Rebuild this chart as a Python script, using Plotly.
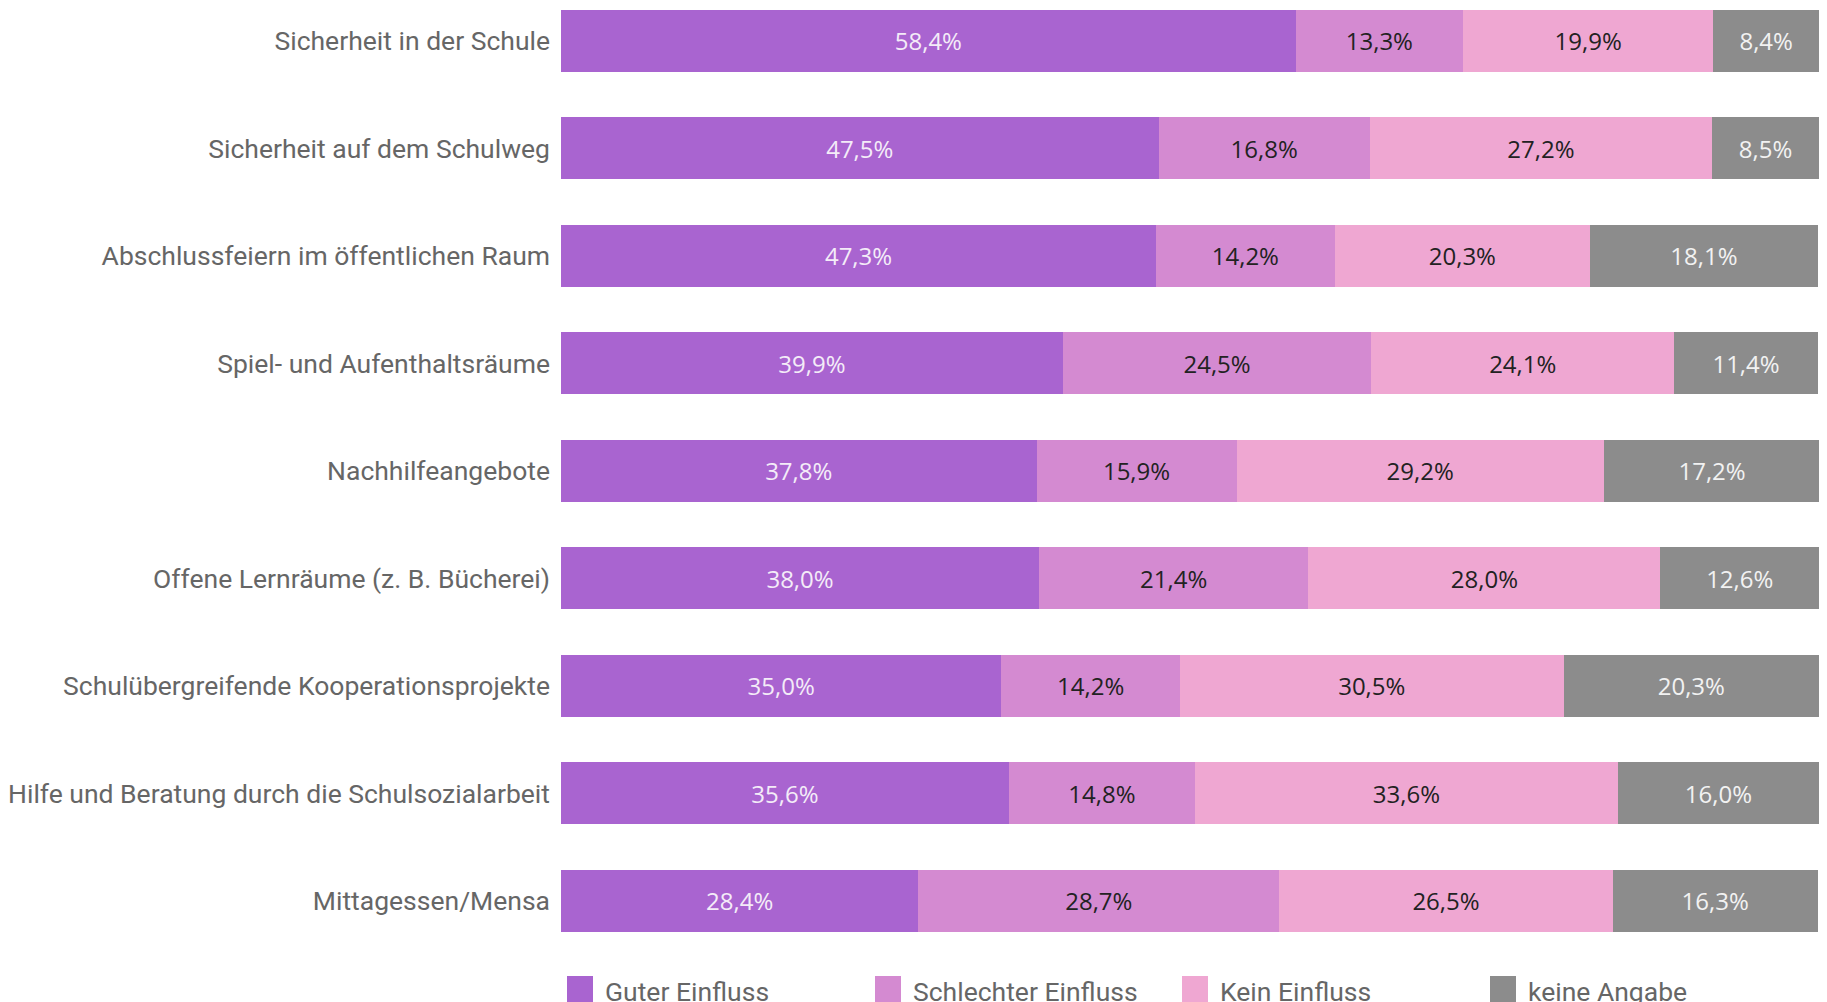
import plotly.graph_objects as go

categories = [
    "Sicherheit in der Schule",
    "Sicherheit auf dem Schulweg",
    "Abschlussfeiern im öffentlichen Raum",
    "Spiel- und Aufenthaltsräume",
    "Nachhilfeangebote",
    "Offene Lernräume (z. B. Bücherei)",
    "Schulübergreifende Kooperationsprojekte",
    "Hilfe und Beratung durch die Schulsozialarbeit",
    "Mittagessen/Mensa",
]
guter = [58.4, 47.5, 47.3, 39.9, 37.8, 38.0, 35.0, 35.6, 28.4]
schlechter = [13.3, 16.8, 14.2, 24.5, 15.9, 21.4, 14.2, 14.8, 28.7]
kein = [19.9, 27.2, 20.3, 24.1, 29.2, 28.0, 30.5, 33.6, 26.5]
keine_angabe = [8.4, 8.5, 18.1, 11.4, 17.2, 12.6, 20.3, 16.0, 16.3]

series_names = ["Guter Einfluss", "Schlechter Einfluss", "Kein Einfluss", "keine Angabe"]
series_values = [guter, schlechter, kein, keine_angabe]
colors = ["#a964d0", "#d48ad1", "#efa7d2", "#8c8c8c"]
text_colors = ["#f4ecf8", "#222222", "#222222", "#f2f2f2"]

FONT = "Roboto"
VALUE_FONT = "Open Sans"
LABEL_SIZE = 26.5
VALUE_SIZE = 24
LABEL_COLOR = "#666666"

# the page body has an 8px margin; figure is sized to fit the window
OFF = 8
W, H = 1827 - OFF, 1002 - OFF
ML, MR, MT, MB = 561 - OFF, 8, 0, 42
plot_w = W - ML - MR
plot_h = H - MT - MB

fig = go.Figure()
for name, vals, col, tcol in zip(series_names, series_values, colors, text_colors):
    fig.add_trace(go.Bar(
        y=categories, x=vals, name=name, orientation="h",
        marker=dict(color=col, line=dict(width=0)),
        text=[f"{v:.1f}%".replace(".", ",") for v in vals],
        textposition="inside", insidetextanchor="middle",
        textfont=dict(family=VALUE_FONT, size=VALUE_SIZE, color=tcol),
        width=0.58, showlegend=False,
    ))

# custom legend (large squares as in reference); page pixel positions
legend_x_px = [567, 875, 1182, 1490]
sq = 26
top_px, bot_px = 976, 1003


def py(p):
    return (OFF + MT + plot_h - p) / plot_h


def px(p):
    return (p - OFF - ML) / plot_w


for name, col, xp in zip(series_names, colors, legend_x_px):
    fig.add_shape(type="rect", xref="paper", yref="paper",
                  x0=px(xp), x1=px(xp + sq), y0=py(bot_px), y1=py(top_px),
                  fillcolor=col, line=dict(width=0), layer="above")
    fig.add_annotation(xref="paper", yref="paper", x=px(xp + sq + 10),
                       y=py(991), text=name, showarrow=False,
                       xanchor="left", yanchor="middle",
                       font=dict(family=FONT, size=LABEL_SIZE, color=LABEL_COLOR))

# y range: first bar center at page y 40.8, step 107.5 px per category
step = 107.5
top_idx = -(40.8 - (OFF + MT)) / step
bot_idx = top_idx + plot_h / step

fig.update_layout(
    barmode="stack",
    width=W, height=H,
    margin=dict(l=ML, r=MR, t=MT, b=MB, autoexpand=False),
    paper_bgcolor="white", plot_bgcolor="white",
    font=dict(family=FONT, color=LABEL_COLOR),
)
fig.update_xaxes(range=[0, 100], visible=False, fixedrange=True, automargin=False)
fig.update_yaxes(
    categoryorder="array", categoryarray=categories,
    range=[bot_idx, top_idx], showgrid=False, zeroline=False, showline=False,
    tickfont=dict(family=FONT, size=LABEL_SIZE, color=LABEL_COLOR),
    ticklabelstandoff=10, ticks="", automargin=False,
)

fig.write_html("out.html")
